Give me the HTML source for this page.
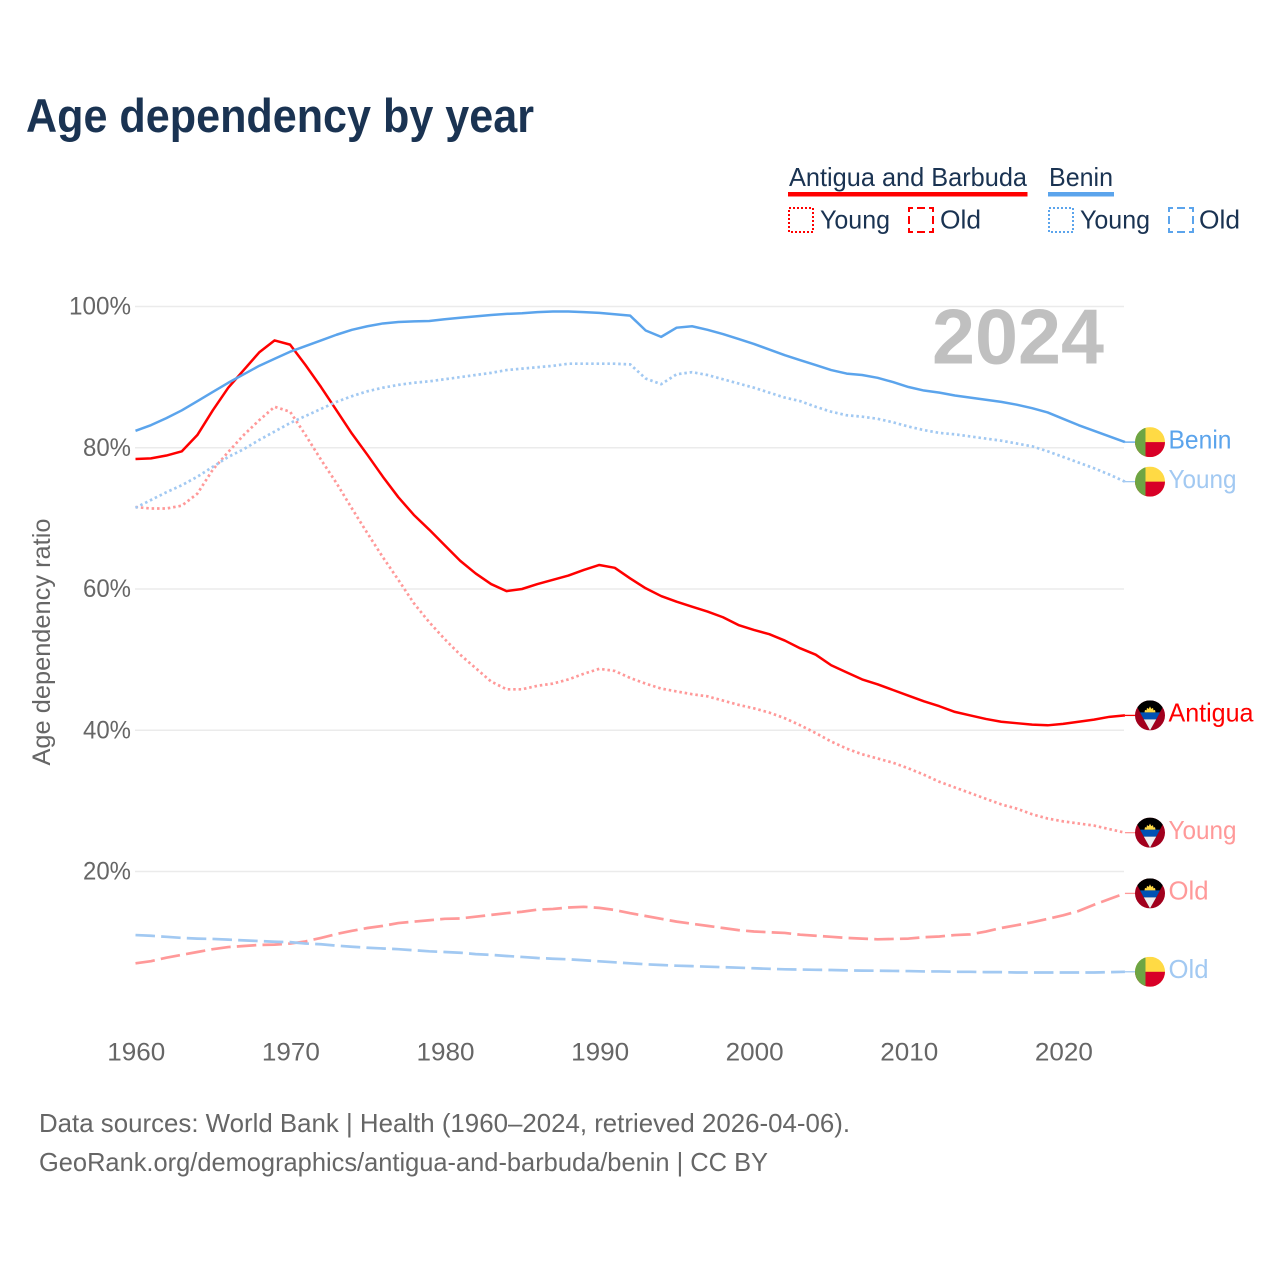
<!DOCTYPE html>
<html lang="en">
<head>
<meta charset="utf-8">
<title>Age dependency by year</title>
<style>
html,body{margin:0;padding:0;background:#fff;}
svg{display:block;font-family:"Liberation Sans",sans-serif;}
</style>
</head>
<body>
<svg id="chart" xmlns="http://www.w3.org/2000/svg" width="1280" height="1280" viewBox="0 0 1280 1280">
  <defs>
    <clipPath id="flag-clip"><circle cx="0" cy="0" r="15"/></clipPath>
    <symbol id="flag-benin" overflow="visible">
      <g clip-path="url(#flag-clip)">
        <rect x="-15" y="-15" width="30" height="30" fill="#ffda44"/>
        <rect x="-15" y="0" width="30" height="15" fill="#d80027"/>
        <rect x="-15" y="-15" width="10.5" height="30" fill="#6da544"/>
      </g>
    </symbol>
    <symbol id="flag-antigua" overflow="visible">
      <g clip-path="url(#flag-clip)">
        <rect x="-15" y="-15" width="30" height="30" fill="#a2001d"/>
        <polygon points="-16.5,-15 16.5,-15 0,15" fill="#000"/>
        <polygon points="-10,-3 10,-3 6.2,4 -6.2,4" fill="#0052b4"/>
        <polygon points="-6.2,4 6.2,4 0,15" fill="#f0f0f0"/>
        <polygon points="-5.5,-3 -5,-5.5 -3.5,-5 -3,-7.5 -1.3,-6.5 0,-9 1.3,-6.5 3,-7.5 3.5,-5 5,-5.5 5.5,-3" fill="#ffda44"/>
      </g>
    </symbol>
  </defs>

  <text x="26" y="132" font-size="47" font-weight="bold" fill="#1a3352" textLength="508" lengthAdjust="spacingAndGlyphs">Age dependency by year</text>

  <g>
    <text x="789" y="186" font-size="26" fill="#1a3352" textLength="238" lengthAdjust="spacingAndGlyphs">Antigua and Barbuda</text>
    <rect x="788" y="192" width="239.5" height="4.5" fill="#ff0000"/>
    <text x="1049" y="186" font-size="26" fill="#1a3352" textLength="64" lengthAdjust="spacingAndGlyphs">Benin</text>
    <rect x="1048" y="192" width="66" height="4.5" fill="#5ba4ec"/>

    <rect x="789" y="208" width="24" height="24" fill="none" stroke="#ff0000" stroke-width="2" stroke-dasharray="2 2"/>
    <text x="820" y="228.5" font-size="26" fill="#1a3352" textLength="70" lengthAdjust="spacingAndGlyphs">Young</text>
    <rect x="909" y="208" width="24" height="24" fill="none" stroke="#ff0000" stroke-width="2" stroke-dasharray="8 4" stroke-dashoffset="4"/>
    <text x="940" y="228.5" font-size="26" fill="#1a3352" textLength="41" lengthAdjust="spacingAndGlyphs">Old</text>

    <rect x="1049" y="208" width="24" height="24" fill="none" stroke="#5ba4ec" stroke-width="2" stroke-dasharray="2 2"/>
    <text x="1080" y="228.5" font-size="26" fill="#1a3352" textLength="70" lengthAdjust="spacingAndGlyphs">Young</text>
    <rect x="1169" y="208" width="24" height="24" fill="none" stroke="#5ba4ec" stroke-width="2" stroke-dasharray="8 4" stroke-dashoffset="4"/>
    <text x="1199" y="228.5" font-size="26" fill="#1a3352" textLength="41" lengthAdjust="spacingAndGlyphs">Old</text>
  </g>

  <g id="grid"></g>
  <g id="y-ticks"></g>
  <g id="x-ticks"></g>

  <text transform="translate(50,642) rotate(-90)" text-anchor="middle" font-size="25" fill="#666666" textLength="247" lengthAdjust="spacingAndGlyphs">Age dependency ratio</text>

  <text x="1104" y="363.5" text-anchor="end" font-size="78" font-weight="bold" fill="#c0c0c0" textLength="172" lengthAdjust="spacingAndGlyphs">2024</text>

  <g id="series"></g>
  <g id="end-labels"></g>

  <text x="39" y="1132" font-size="26" fill="#666666" textLength="811" lengthAdjust="spacingAndGlyphs">Data sources: World Bank | Health (1960–2024, retrieved 2026-04-06).</text>
  <text x="39" y="1171" font-size="26" fill="#666666" textLength="729" lengthAdjust="spacingAndGlyphs">GeoRank.org/demographics/antigua-and-barbuda/benin | CC BY</text>
</svg>

<script>
const startYear = 1960;
const xTickLabels = [1960, 1970, 1980, 1990, 2000, 2010, 2020];
const yTickLabels = [100, 80, 60, 40, 20];

const antiguaTotal = [
  78.4,78.5,78.9,79.5,81.8,85.3,88.5,91,93.5,95.2,
  94.6,91.7,88.6,85.3,82,79,75.9,73,70.5,68.4,
  66.2,64,62.2,60.7,59.7,60,60.7,61.3,61.9,62.7,
  63.4,63,61.5,60.1,59,58.2,57.5,56.8,56,54.9,
  54.2,53.6,52.7,51.6,50.7,49.2,48.2,47.2,46.5,45.7,
  44.9,44.1,43.4,42.6,42.1,41.6,41.2,41,40.8,40.7,
  40.9,41.2,41.5,41.9,42.1
];
const antiguaYoung = [
  71.6,71.4,71.4,71.8,73.5,76.9,79.4,81.8,83.9,85.8,
  85.1,81.8,78.3,75,71.4,67.9,64.5,61.3,58,55.3,
  52.9,50.7,48.8,46.9,45.8,45.8,46.3,46.6,47.2,48,
  48.7,48.4,47.4,46.6,45.9,45.5,45.1,44.8,44.2,43.6,
  43.1,42.5,41.7,40.7,39.6,38.4,37.4,36.6,36,35.4,
  34.6,33.7,32.7,31.9,31.1,30.3,29.5,28.9,28.1,27.5,
  27.1,26.8,26.5,26,25.5
];
const antiguaOld = [
  7,7.3,7.8,8.2,8.6,9,9.3,9.45,9.6,9.65,
  9.8,10.1,10.6,11.15,11.6,12,12.3,12.7,12.9,13.1,
  13.3,13.35,13.6,13.85,14.1,14.3,14.6,14.7,14.9,15,
  14.85,14.55,14.1,13.7,13.3,12.9,12.6,12.3,12,11.7,
  11.5,11.4,11.3,11.05,10.9,10.75,10.6,10.5,10.4,10.45,
  10.5,10.7,10.8,11,11.1,11.5,12,12.4,12.8,13.3,
  13.8,14.4,15.3,16.1,16.9
];
const beninTotal = [
  82.4,83.2,84.2,85.3,86.6,87.9,89.2,90.4,91.6,92.6,
  93.6,94.4,95.2,96,96.7,97.2,97.6,97.8,97.9,97.95,
  98.2,98.4,98.6,98.8,98.95,99.05,99.2,99.3,99.3,99.2,
  99.1,98.9,98.7,96.6,95.7,97,97.2,96.7,96.1,95.4,
  94.7,93.9,93.1,92.4,91.7,91,90.5,90.3,89.9,89.3,
  88.6,88.1,87.8,87.4,87.1,86.8,86.5,86.1,85.6,85,
  84.1,83.2,82.4,81.6,80.8
];
const beninYoung = [
  71.5,72.6,73.7,74.7,75.9,77.3,78.7,79.8,81.1,82.3,
  83.5,84.5,85.5,86.5,87.3,88,88.5,88.9,89.2,89.4,
  89.7,90,90.3,90.6,91,91.2,91.4,91.6,91.9,91.9,
  91.9,91.9,91.8,89.8,89,90.4,90.7,90.3,89.7,89.1,
  88.5,87.8,87.1,86.6,85.8,85.1,84.6,84.4,84.1,83.6,
  83,82.5,82.1,81.9,81.6,81.3,81,80.6,80.2,79.5,
  78.7,77.9,77.1,76.2,75.2
];
const beninOld = [
  11,10.9,10.75,10.6,10.5,10.45,10.35,10.25,10.15,10.05,
  10,9.8,9.7,9.5,9.35,9.2,9.1,9,8.85,8.7,
  8.6,8.5,8.3,8.2,8.04,7.9,7.75,7.65,7.57,7.43,
  7.28,7.14,7,6.86,6.76,6.66,6.6,6.52,6.45,6.38,
  6.3,6.22,6.15,6.12,6.08,6.05,6,5.97,5.95,5.92,
  5.9,5.85,5.85,5.8,5.8,5.75,5.75,5.7,5.7,5.7,
  5.7,5.7,5.7,5.75,5.8
];

const NS = 'http://www.w3.org/2000/svg';
const xAxis = function (year) { return 135.5 + (year - 1960) * 15.46; };
const yAxis = function (value) { return 306.5 + (100 - value) * 7.0625; };

function make(parent, tag, attrs, name) {
  const el = document.createElementNS(NS, tag);
  for (const k in attrs) el.setAttribute(k, attrs[k]);
  
  
  parent.appendChild(el);
  return el;
}

const gridGroup = document.getElementById('grid');
const yTickGroup = document.getElementById('y-ticks');
const xTickGroup = document.getElementById('x-ticks');
const seriesGroup = document.getElementById('series');
const labelGroup = document.getElementById('end-labels');

yTickLabels.forEach(function (v) {
  make(gridGroup, 'line', {x1: 135, x2: 1124, y1: yAxis(v), y2: yAxis(v), stroke: '#ebebeb', 'stroke-width': 1.6}, 'gridline-' + v);
  const label = make(yTickGroup, 'text', {x: 131, y: yAxis(v) + 8, 'text-anchor': 'end', 'font-size': 25, fill: '#666666', textLength: v === 100 ? 62 : 48, lengthAdjust: 'spacingAndGlyphs'}, 'y-tick-' + v);
  label.textContent = v + '%';
});

xTickLabels.forEach(function (year) {
  const label = make(xTickGroup, 'text', {x: xAxis(year) + 0.8, y: 1060.5, 'text-anchor': 'middle', 'font-size': 25, fill: '#666666', textLength: 58, lengthAdjust: 'spacingAndGlyphs'}, 'x-tick-' + year);
  label.textContent = year;
});

function drawSeries(values, color, dash, name) {
  const points = values.map(function (v, i) {
    return xAxis(startYear + i).toFixed(2) + ',' + yAxis(v).toFixed(2);
  }).join(' ');
  const attrs = {points: points, fill: 'none', stroke: color, 'stroke-width': dash ? 2.7 : 2.5, 'stroke-linejoin': 'round'};
  if (dash) attrs['stroke-dasharray'] = dash;
  make(seriesGroup, 'polyline', attrs, name);
}

function drawEnd(values, color, flag, text, textWidth, name) {
  const last = values[values.length - 1];
  const year = startYear + values.length - 1;
  const py = yAxis(last);
  make(labelGroup, 'line', {x1: xAxis(year), x2: 1136, y1: py, y2: py, stroke: color, 'stroke-width': 1.3}, name + '-leader');
  make(labelGroup, 'use', {href: '#' + flag, transform: 'translate(1150,' + py.toFixed(2) + ')'}, name + '-flag');
  const label = make(labelGroup, 'text', {x: 1168.5, y: py + 6.3, 'font-size': 26, fill: color, textLength: textWidth, lengthAdjust: 'spacingAndGlyphs'}, name + '-label');
  label.textContent = text;
}

const RED = '#ff0000', RED_LIGHT = '#ff9999', BLUE = '#5ba4ec', BLUE_LIGHT = '#a2c9f2';
const DOT = '2.5 2.9', DASH = '19.5 6.2';

drawSeries(antiguaOld, RED_LIGHT, DASH, 'line-antigua-old');
drawSeries(antiguaYoung, RED_LIGHT, DOT, 'line-antigua-young');
drawSeries(antiguaTotal, RED, null, 'line-antigua-total');
drawSeries(beninOld, BLUE_LIGHT, DASH, 'line-benin-old');
drawSeries(beninYoung, BLUE_LIGHT, DOT, 'line-benin-young');
drawSeries(beninTotal, BLUE, null, 'line-benin-total');

drawEnd(beninTotal, BLUE, 'flag-benin', 'Benin', 63, 'end-benin-total');
drawEnd(beninYoung, BLUE_LIGHT, 'flag-benin', 'Young', 68, 'end-benin-young');
drawEnd(beninOld, BLUE_LIGHT, 'flag-benin', 'Old', 40, 'end-benin-old');
drawEnd(antiguaTotal, RED, 'flag-antigua', 'Antigua', 85, 'end-antigua-total');
drawEnd(antiguaYoung, RED_LIGHT, 'flag-antigua', 'Young', 68, 'end-antigua-young');
drawEnd(antiguaOld, RED_LIGHT, 'flag-antigua', 'Old', 40, 'end-antigua-old');
</script>
</body>
</html>
